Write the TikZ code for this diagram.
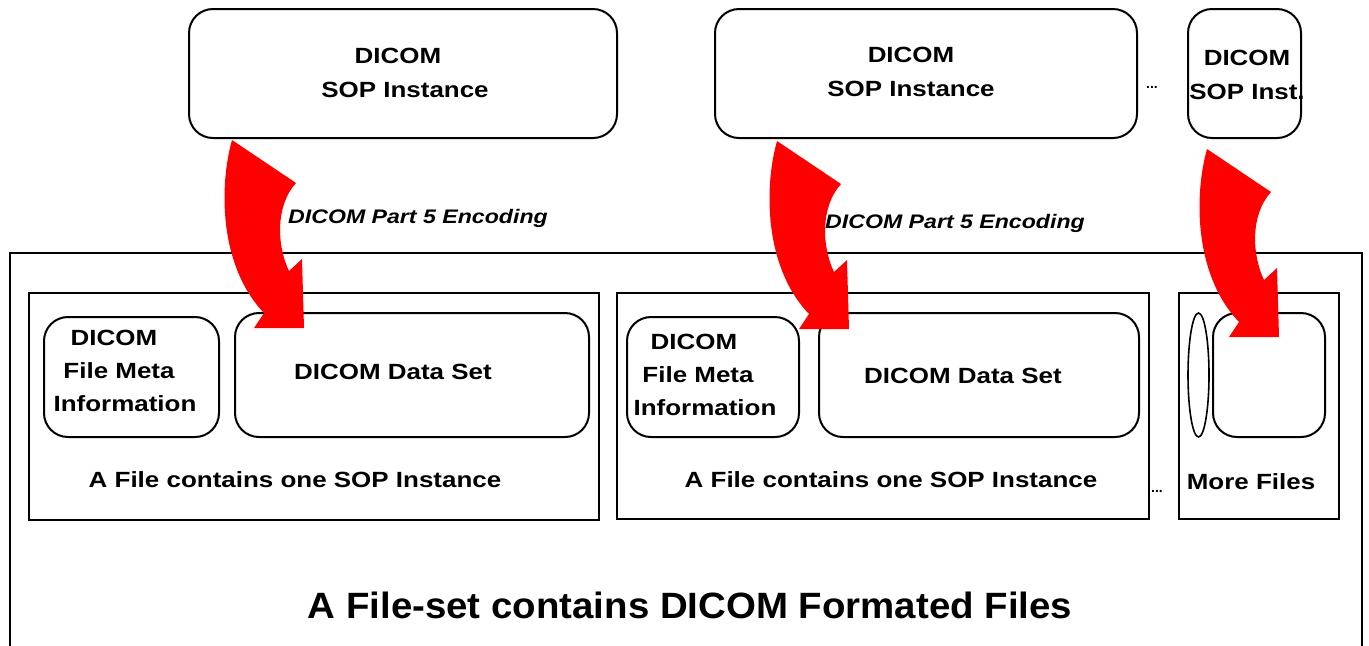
\documentclass[tikz,border=0pt]{standalone}
\usepackage{fontspec}
\setmainfont{Liberation Sans}
\newfontfamily\widefont[FakeStretch=1.18]{Liberation Sans}
\newfontfamily\bigfont[FakeStretch=1.05]{Liberation Sans}
\usetikzlibrary{positioning,shapes.geometric}

\tikzset{
  box/.style={draw,line width=1pt,inner sep=0pt},
  roundbox/.style={box,rounded corners=12pt},
  txt/.style={font=\widefont\bfseries\fontsize{11}{17}\selectfont,align=center,inner sep=0pt},
  metatxt/.style={font=\widefont\bfseries\fontsize{11}{16.5}\selectfont,align=center,inner sep=0pt},
  enctxt/.style={font=\widefont\bfseries\itshape\fontsize{9.8}{12}\selectfont,inner sep=0pt},
  dotstxt/.style={font=\bfseries\fontsize{7}{8}\selectfont,inner sep=0pt},
  encarrow/.pic={
    \fill[red] (0,0) .. controls (-13,46) and (-13,126) .. (32,173)
      -- (22,188) -- (72,188) -- (70,119) -- (57,131)
      .. controls (45,106) and (43,66) .. (64,43) -- cycle;
  }
}

\begin{document}
\begin{tikzpicture}[x=0.5pt,y=-0.5pt]
\useasboundingbox (0,0) rectangle (1369,645);

% SOP instances
\node[roundbox,minimum width=214pt,minimum height=64.5pt] (sop1) at (403,73.5) {};
\node[roundbox,minimum width=211pt,minimum height=64.5pt] (sop2) at (926,73.5) {};
\node[roundbox,minimum width=56.5pt,minimum height=64.5pt] (sop3) at (1244.5,73.5) {};
\node[txt] (sop1txt) at (405,73) {DICOM\kern7pt\\SOP Instance};
\node[txt] (sop2txt) at (911,72) {DICOM\\SOP Instance};
\node[txt] (sop3txt) at (1247,75) {DICOM\\SOP Inst.};
\node[dotstxt] (dotstop) at (1152,87) {...};

% file-set and files
\node[box,minimum width=676pt,minimum height=223.5pt] (fileset) at (686,476.5) {};
\node[box,minimum width=285pt,minimum height=113.5pt] (file1) at (314,406.5) {};
\node[box,minimum width=266pt,minimum height=113pt] (file2) at (883,406) {};
\node[box,minimum width=80pt,minimum height=113pt] (file3) at (1259,406) {};

\node[roundbox,minimum width=87.5pt,minimum height=60pt] (meta1) at (131.5,377) {};
\node[roundbox,minimum width=177pt,minimum height=62pt] (data1) at (412,375) {};
\node[roundbox,minimum width=86pt,minimum height=60pt] (meta2) at (713,377) {};
\node[roundbox,minimum width=160pt,minimum height=62pt] (data2) at (979,375) {};
\node[draw,line width=0.8pt,ellipse,inner sep=0pt,minimum width=10.5pt,minimum height=62pt] (meta3) at (1198.5,375) {};
\node[roundbox,minimum width=56pt,minimum height=62pt] (data3) at (1269,375) {};

% labels
\node[metatxt] (meta1txt) at (125,371) {DICOM\kern11pt\\File Meta\kern6pt\\Information};
\node[txt] (data1txt) at (393,372) {DICOM Data Set};
\node[txt] (file1txt) at (295,480) {A File contains one SOP Instance};
\node[metatxt] (meta2txt) at (705,375) {DICOM\kern11pt\\File Meta\kern7pt\\Information};
\node[txt] (data2txt) at (963,376) {DICOM Data Set};
\node[txt] (file2txt) at (891,480) {A File contains one SOP Instance};
\node[dotstxt] (dotsfile) at (1157,491) {...};
\node[txt] (file3txt) at (1251,482) {More Files};
\node[font=\bigfont\bfseries\fontsize{18.3}{20}\selectfont,inner sep=0pt] (filesettxt) at (690,605) {A File-set contains DICOM Formated Files};

\node[enctxt] (enc1) at (418,218) {DICOM Part 5 Encoding};
\node[enctxt] (enc2) at (955,223) {DICOM Part 5 Encoding};

% encoding arrows
\pic at ([xshift=22pt,yshift=-0.5pt]sop1.south west) {encarrow};
\pic at ([xshift=31.5pt,yshift=-1pt]sop2.south west) {encarrow};
\pic at ([xshift=10pt,yshift=-5pt]sop3.south west) {encarrow};
\end{tikzpicture}
\end{document}
